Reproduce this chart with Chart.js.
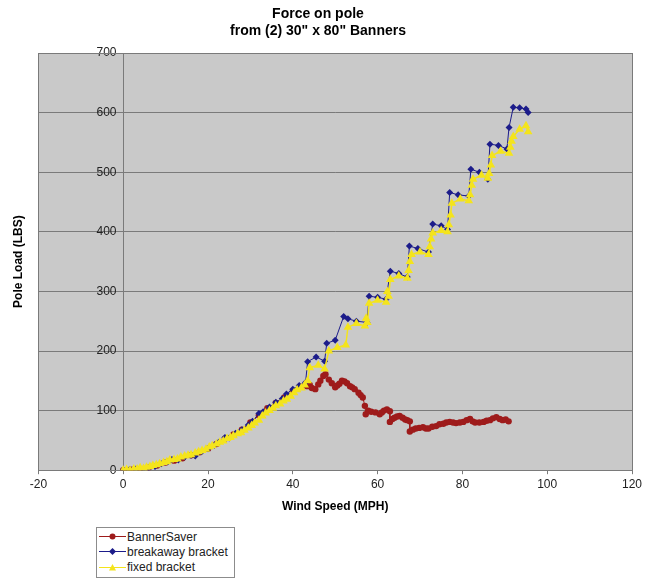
<!DOCTYPE html>
<html>
<head>
<meta charset="utf-8">
<title>Force on pole</title>
<script src="https://cdn.jsdelivr.net/npm/chart.js@4.4.0/dist/chart.umd.min.js"></script>
<style>
    body { margin: 0; background: #fff; }
    #wrap { position: relative; width: 652px; height: 579px; }
    #legend {
        position: absolute; left: 96px; top: 527px; width: 137px; height: 48px;
        border: 1px solid #8c8c8c; background: #fff; padding-top: 1px;
        font: 12px Arial, 'Liberation Sans', sans-serif; color: #222;
    }
    .item { height: 15.3px; display: flex; align-items: center; white-space: nowrap; }
    .item svg { margin: 0 1px 0 2px; }
</style>
</head>
<body>
<div id="wrap">
    <canvas id="poleChart"></canvas>
    <div id="legend"></div>
</div>
<script>
// Series names (legend order)
const seriesNames = ['BannerSaver', 'breakaway bracket', 'fixed bracket'];

// BannerSaver: wind speed (MPH) / pole load (LBS)
const bannerSpeed = [0, 2, 4, 6, 8, 10, 12, 14, 16, 18, 20, 22, 24, 26, 28, 30, 32, 34, 36, 38, 40, 42,
    43.4, 44, 44.5, 45.3, 46, 46.5, 47.2, 47.7, 48.5, 49.2, 50, 50.5, 51, 51.6, 52.2, 52.8, 53.5, 54,
    54.6, 55.5, 56, 56.5, 57, 57.2, 57.8, 58.5, 59.5, 60.5, 61, 61.5, 62.2, 62.9, 62.9, 63.5, 64, 64.6,
    65.2, 65.9, 66.5, 67, 67.6, 67.6, 68.3, 69, 69.8, 70.7, 71.4, 72, 72.9, 73.8, 74.6, 75.5, 76.2, 77,
    77.8, 78.5, 79.4, 80.2, 81, 81.8, 82.4, 83, 84, 85, 85.7, 86.5, 87.2, 88, 88.8, 89.5, 90.2, 90.9];
const bannerLoad = [0, 1, 2, 4, 8, 13, 16, 20, 25, 30, 36, 44, 53, 60, 68, 80, 92, 104, 113, 122, 132, 140,
    141, 143, 138, 136, 144, 150, 158, 161, 152, 146, 139, 142, 145, 150, 149, 146, 141, 139,
    136, 130, 126, 122, 108, 94, 100, 98, 97, 94, 97, 100, 102, 99, 81, 86, 88, 90,
    91, 88, 85, 84, 82, 65, 68, 70, 71, 72, 70, 70, 73, 74, 77, 78, 80, 81,
    80, 79, 80, 81, 84, 86, 82, 80, 80, 81, 83, 84, 87, 89, 86, 84, 85, 82];

// breakaway bracket
const breakawaySpeed = [0, 1.5, 3, 4.5, 6, 7.5, 9, 10.5, 11.5, 13, 14.5, 16, 17, 18.5, 20, 21.5, 22.5, 24, 25, 26.5,
    28, 29.5, 30.5, 32, 33, 34.5, 36, 37.5, 38.5, 40, 41.5, 43, 43.5, 45.5, 47.5, 48, 50, 52, 53, 55,
    57.5, 58, 60, 62, 63, 65, 67, 67.5, 69.5, 72, 73, 75, 76.5, 77, 79, 81.5, 82, 84, 86, 86.5,
    88.5, 90.5, 91, 92, 93.5, 95, 95.5];
const breakawayLoad = [0, 1, 2, 1, 4, 6, 11, 14, 18, 17, 22, 25, 24, 31, 36, 42, 47, 55, 54, 62,
    68, 76, 82, 95, 98, 106, 114, 120, 128, 136, 142, 147, 182, 190, 183, 213, 218, 258, 254, 250,
    248, 292, 290, 287, 334, 330, 324, 376, 372, 366, 413, 410, 404, 466, 462, 460, 505, 500, 488, 547,
    545, 539, 575, 609, 608, 606, 600];

// fixed bracket
const fixedSpeed = [0, 0.8, 1.6, 2.5, 3.3, 4, 4.8, 5.5, 6.3, 7, 7.8, 8.6, 9.5, 10.3, 11, 12, 12.8, 13.6, 14.5, 15.3,
    16, 17, 17.8, 18.6, 19.5, 20.3, 21, 22, 22.8, 23.6, 24.5, 25.3, 26, 27, 27.8, 28.6, 29.5, 30.3, 31, 32,
    32.8, 33.6, 34.5, 35.3, 36, 37, 37.8, 38.6, 39.5, 40.3, 41, 42, 42.8, 43.5,
    44, 46, 47.5, 48.5, 50.5, 52.5, 53, 55, 57, 57.3, 57.6, 58, 60, 62, 62.3, 62.6, 63, 65, 67, 67.3,
    67.6, 68, 70, 72, 72.3, 72.6, 73, 75, 76.5, 76.8, 77.2, 77.5, 79.5, 81.5, 81.8, 82.2, 82.5, 84.5, 86, 86.3,
    86.7, 87, 89, 91, 91.3, 91.6, 92, 93.5, 95, 95.5];
const fixedLoad = [0, 1, 0, 2, 2, 4, 3, 5, 6, 8, 9, 11, 13, 14, 17, 18, 19, 22, 24, 25,
    26, 29, 31, 33, 35, 39, 41, 44, 47, 49, 53, 55, 58, 61, 63, 67, 71, 75, 79, 84,
    91, 96, 100, 104, 108, 111, 116, 119, 124, 130, 135, 138, 143, 150,
    172, 176, 170, 200, 206, 210, 240, 246, 242, 255, 248, 280, 285, 282, 300, 292, 320, 326, 322, 335,
    350, 362, 366, 362, 375, 388, 398, 402, 400, 412, 428, 448, 455, 452, 462, 478, 488, 495, 490, 498,
    512, 528, 535, 532, 542, 552, 560, 572, 578, 568];

// axis ranges and steps
const speedRange = [-20, 120];
const loadRange = [0, 700];
const speedStep = 20;
const loadStep = 100;

const FONT = "Arial, 'Liberation Sans', sans-serif";
const GRID = '#7a7a7a';

function toPoints(xs, ys) {
    return xs.map((x, i) => ({ x: x, y: ys[i] }));
}

// gray plot area + frame, like the old spreadsheet charts
const plotBackground = {
    id: 'plotBackground',
    beforeDraw(chart) {
        const { ctx, chartArea: a } = chart;
        ctx.save();
        ctx.fillStyle = '#c9c9c9';
        ctx.fillRect(a.left, a.top, a.right - a.left, a.bottom - a.top);
        ctx.restore();
    },
    beforeDatasetsDraw(chart) {
        const { ctx, chartArea: a } = chart;
        ctx.save();
        ctx.strokeStyle = GRID;
        ctx.lineWidth = 1;
        ctx.strokeRect(Math.round(a.left) + 0.5, Math.round(a.top) + 0.5,
            Math.round(a.right - a.left), Math.round(a.bottom - a.top));
        ctx.restore();
    }
};

const ctx = document.getElementById('poleChart').getContext('2d');
const poleChart = new Chart(ctx, {
    type: 'scatter',
    data: {
        datasets: [{
            label: seriesNames[0],
            data: toPoints(bannerSpeed, bannerLoad),
            showLine: true,
            borderColor: '#9e1b1b',
            backgroundColor: '#9e1b1b',
            borderWidth: 1,
            pointStyle: 'circle',
            pointRadius: 3.2,
            pointBorderWidth: 0,
            order: 3
        }, {
            label: seriesNames[1],
            data: toPoints(breakawaySpeed, breakawayLoad),
            showLine: true,
            borderColor: '#1c1c8a',
            backgroundColor: '#1c1c8a',
            borderWidth: 1,
            pointStyle: 'rectRot',
            pointRadius: 3.5,
            pointBorderWidth: 0,
            order: 2
        }, {
            label: seriesNames[2],
            data: toPoints(fixedSpeed, fixedLoad),
            showLine: true,
            borderColor: '#f4e41c',
            backgroundColor: '#f4e41c',
            borderWidth: 1.5,
            pointStyle: 'triangle',
            pointRadius: 5,
            pointBorderWidth: 0,
            order: 1
        }]
    },
    options: {
        responsive: true,
        maintainAspectRatio: false,
        animation: false,
        layout: { padding: { left: 4, right: 20, top: 0, bottom: 61 } },
        plugins: {
            legend: { display: false },
            tooltip: { enabled: false },
            title: {
                display: true,
                text: ['Force on pole', 'from (2) 30" x 80" Banners'],
                color: '#000',
                font: { family: FONT, size: 14, weight: 'bold', lineHeight: 1.25 },
                padding: { top: 5, bottom: 13 }
            }
        },
        scales: {
            x: {
                type: 'linear',
                min: speedRange[0],
                max: speedRange[1],
                ticks: { stepSize: speedStep, color: '#222', padding: 3, font: { family: FONT, size: 12 } },
                grid: { drawOnChartArea: false, drawTicks: true, tickLength: 4, color: GRID },
                border: { color: GRID },
                title: {
                    display: true,
                    text: 'Wind Speed (MPH)',
                    color: '#000',
                    font: { family: FONT, size: 12, weight: 'bold' },
                    padding: { top: 5, bottom: 4 }
                }
            },
            // value axis crosses at x = 0 like the original
            y: {
                type: 'linear',
                position: { x: 0 },
                min: loadRange[0],
                max: loadRange[1],
                ticks: {
                    stepSize: loadStep, color: '#222', font: { family: FONT, size: 12 },
                    // positioned axes ignore ticks.padding, so keep a gap from the axis line
                    callback: v => v + '  '
                },
                grid: { color: GRID, tickLength: 5 },
                border: { color: GRID }
            },
            // only carries the axis title at the left edge
            yTitle: {
                type: 'linear',
                axis: 'y',
                position: 'left',
                min: loadRange[0],
                max: loadRange[1],
                ticks: { display: false },
                grid: { display: false, drawTicks: false },
                border: { display: false },
                title: {
                    display: true,
                    text: 'Pole Load (LBS)',
                    color: '#000',
                    font: { family: FONT, size: 12, weight: 'bold' },
                    padding: { top: 7, bottom: 13 }
                }
            }
        }
    },
    plugins: [plotBackground]
});

// HTML legend, one item per row
function markerSvg(ds) {
    const c = ds.borderColor;
    let mark = `<circle cx="13.5" cy="4.5" r="3" fill="${c}"/>`;
    if (ds.pointStyle === 'rectRot') mark = `<polygon points="13.5,1 17,4.5 13.5,8 10,4.5" fill="${c}"/>`;
    if (ds.pointStyle === 'triangle') mark = `<polygon points="13.5,1 17,7.5 10,7.5" fill="${c}"/>`;
    return `<svg width="27" height="9"><line x1="0" y1="4.5" x2="27" y2="4.5" stroke="${c}" stroke-width="1"/>${mark}</svg>`;
}

const legendBox = document.getElementById('legend');
poleChart.data.datasets.forEach(ds => {
    const div = document.createElement('div');
    div.className = 'item';
    div.innerHTML = markerSvg(ds) + `<span>${ds.label}</span>`;
    legendBox.appendChild(div);
});
</script>
</body>
</html>
